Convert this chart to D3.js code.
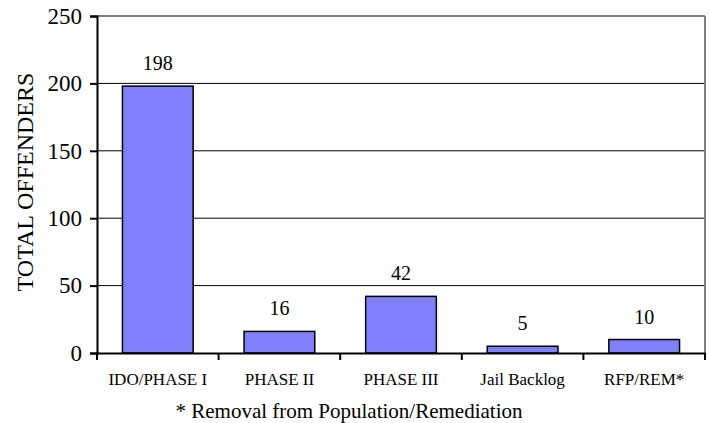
<!DOCTYPE html>
<html>
<head>
<meta charset="utf-8">
<script src="https://cdn.jsdelivr.net/npm/d3@7"></script>
</head>
<body style="margin:0; background:#fff">
<svg id="chart" width="710" height="423"></svg>
<script>
const categories = ["IDO/PHASE I", "PHASE II", "PHASE III", "Jail Backlog", "RFP/REM*"];
const offenders = [198, 16, 42, 5, 10];
const yTicks = [0, 50, 100, 150, 200, 250];

const serif = "Liberation Serif";

let svg = d3.select("#chart");
let margin = { top: 16, right: 5, bottom: 70, left: 97 };
let width = 710 - margin.left - margin.right;
let height = 423 - margin.top - margin.bottom;

let g = svg.append("g").attr("transform", `translate(${margin.left},${margin.top})`);

let x = d3.scaleBand().domain(categories).range([0, width]).paddingInner(0).paddingOuter(0);
let y = d3.scaleLinear().domain([0, 250]).range([height, 0]);

// gridlines
g.selectAll(".grid")
  .data(yTicks.filter(d => d > 0))
  .enter()
  .append("line")
  .attr("x1", 0)
  .attr("x2", width)
  .attr("y1", d => y(d))
  .attr("y2", d => y(d))
  .attr("stroke", d => d === 250 ? "#808080" : "#000")
  .attr("stroke-width", d => d === 250 ? 2 : 1);

// right border
g.append("line")
  .attr("x1", width).attr("x2", width)
  .attr("y1", 0).attr("y2", height)
  .attr("stroke", "#808080").attr("stroke-width", 2);

// bars
let barW = x.bandwidth() / 1.72;
g.selectAll(".bar")
  .data(offenders)
  .enter()
  .append("rect")
  .attr("x", (d, i) => x(categories[i]) + (x.bandwidth() - barW) / 2)
  .attr("y", d => y(d))
  .attr("width", barW)
  .attr("height", d => height - y(d))
  .attr("fill", "#8080ff")
  .attr("stroke", "#000")
  .attr("stroke-width", 1.5);

// value labels
g.selectAll(".val")
  .data(offenders)
  .enter()
  .append("text")
  .attr("x", (d, i) => x(categories[i]) + x.bandwidth() / 2)
  .attr("y", d => y(d) - 16)
  .attr("text-anchor", "middle")
  .attr("font-family", serif)
  .attr("font-size", 20)
  .text(d => d);

// y axis
let yAxis = g.append("g")
  .call(d3.axisLeft(y).tickValues(yTicks).tickSize(7).tickPadding(8));
yAxis.attr("font-family", serif).attr("font-size", 23);
yAxis.select(".domain").attr("stroke", "#000").attr("stroke-width", 2);
yAxis.selectAll(".tick line").attr("stroke-width", 2);
yAxis.selectAll("text").attr("font-family", serif).attr("font-size", 23).attr("fill", "#000");

// x axis
let xAxis = g.append("g")
  .attr("transform", `translate(0,${height})`)
  .call(d3.axisBottom(x).tickSize(0).tickPadding(20));
xAxis.attr("font-family", serif).attr("font-size", 17);
xAxis.select(".domain").attr("stroke", "#000").attr("stroke-width", 2);
xAxis.selectAll("text").attr("font-family", serif).attr("font-size", 17).attr("fill", "#000");

// x boundary ticks
xAxis.selectAll(".btick")
  .data(d3.range(categories.length + 1))
  .enter()
  .append("line")
  .attr("x1", i => i * x.bandwidth())
  .attr("x2", i => i * x.bandwidth())
  .attr("y1", 0)
  .attr("y2", 7)
  .attr("stroke", "#000")
  .attr("stroke-width", 2);

// y title
svg.append("text")
  .attr("transform", "translate(33,182) rotate(-90)")
  .attr("text-anchor", "middle")
  .attr("font-family", serif)
  .attr("font-size", 24)
  .text("TOTAL OFFENDERS");

// footnote
svg.append("text")
  .attr("x", 349)
  .attr("y", 418)
  .attr("text-anchor", "middle")
  .attr("font-family", serif)
  .attr("font-size", 21)
  .text("* Removal from Population/Remediation");
</script>
</body>
</html>
